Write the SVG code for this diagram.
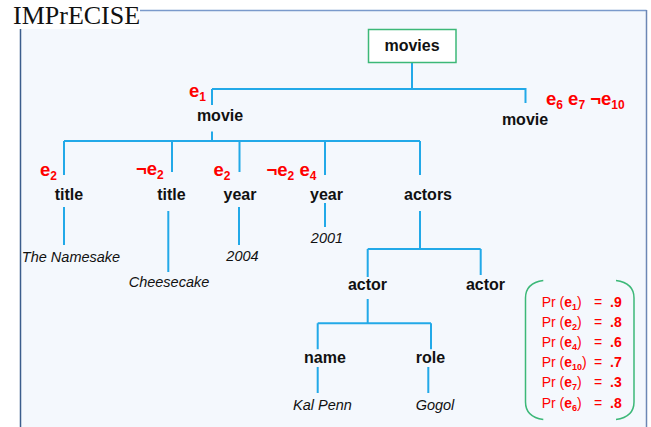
<svg xmlns="http://www.w3.org/2000/svg" width="651" height="427" viewBox="0 0 651 427">
<style>
.lbl{font-family:"Liberation Sans",Arial,sans-serif;font-weight:bold;font-size:16px;fill:#111;text-anchor:middle}
.val{font-family:"Liberation Sans",Arial,sans-serif;font-style:italic;font-size:14.5px;fill:#111;text-anchor:middle}
.ev{font-family:"Liberation Sans",Arial,sans-serif;font-weight:bold;font-size:18.5px;fill:#ff0000}
.sub{font-size:12px}
.leg{font-family:"Liberation Sans",Arial,sans-serif;font-size:14px;fill:#ff0000}
.b{font-weight:bold}
.ls{font-size:9px;font-weight:bold}
.conn{stroke:#22a9e8;stroke-width:2;fill:none}
</style>
<rect x="0" y="0" width="651" height="427" fill="#ffffff"/>
<rect x="20.5" y="10.5" width="626" height="420" fill="#f4f8fd" stroke="none"/>
<line x1="140" y1="10.5" x2="646.5" y2="10.5" stroke="#7a9acb" stroke-width="1.5"/>
<line x1="646.5" y1="10" x2="646.5" y2="427" stroke="#6c87b5" stroke-width="1.5"/>
<line x1="20.5" y1="29" x2="20.5" y2="427" stroke="#3b5d8c" stroke-width="1.5"/>
<rect x="0" y="0" width="140" height="29" fill="#ffffff"/>
<text x="13" y="24" font-family="'Liberation Serif','Times New Roman',serif" font-size="26" fill="#111">IMPrECISE</text>

<g id="connectors">
<path class="conn" d="M412,63 V89 M212,89 H525.5 V103 M212,89 V105"/>
<path class="conn" d="M212,131.5 V141 M64,141 H420 M64,141 V175 M172,141 V172 M239.5,141 V172 M325,141 V175 M420,141 V175"/>
<path class="conn" d="M64,207 V245 M168.3,211 V272 M239,207 V245 M325,203 V227"/>
<path class="conn" d="M420,211 V249 M367.7,249 H480.7 M367.7,249 V277 M480.7,249 V275"/>
<path class="conn" d="M367.7,299 V323.3 M317.7,323.3 H431 M317.7,323.3 V349.3 M431,323.3 V349.3"/>
<path class="conn" d="M317.7,367 V393 M428.3,367 V393"/>
</g>

<g id="movies">
<rect x="368.5" y="29.5" width="87.5" height="33" fill="#ffffff" stroke="#3cb878" stroke-width="1.5"/>
<text class="lbl" x="412" y="51">movies</text>
</g>

<g id="movie1">
<text class="ev" x="189" y="97">e<tspan class="sub" dy="4">1</tspan></text>
<text class="lbl" x="220" y="121">movie</text>
</g>

<g id="movie2">
<text class="lbl" x="525" y="125">movie</text>
<text class="ev" x="546" y="105">e<tspan class="sub" dy="4">6</tspan><tspan dy="-4"> e</tspan><tspan class="sub" dy="4">7</tspan><tspan dy="-4"> ¬e</tspan><tspan class="sub" dy="4">10</tspan></text>
</g>

<g id="title1">
<text class="ev" x="40" y="176">e<tspan class="sub" dy="4">2</tspan></text>
<text class="lbl" x="69" y="200">title</text>
</g>

<g id="title2">
<text class="ev" x="136" y="175">¬e<tspan class="sub" dy="4">2</tspan></text>
<text class="lbl" x="171.5" y="200">title</text>
</g>

<g id="year1">
<text class="ev" x="213.5" y="176">e<tspan class="sub" dy="4">2</tspan></text>
<text class="lbl" x="240" y="200">year</text>
</g>

<g id="year2">
<text class="ev" x="266.5" y="176">¬e<tspan class="sub" dy="4">2</tspan><tspan dy="-4"> e</tspan><tspan class="sub" dy="4">4</tspan></text>
<text class="lbl" x="326.5" y="200">year</text>
</g>

<g id="actors">
<text class="lbl" x="428" y="200">actors</text>
</g>

<g id="val-namesake"><text class="val" x="71" y="261.5">The Namesake</text></g>
<g id="val-cheesecake"><text class="val" x="169" y="287">Cheesecake</text></g>
<g id="val-2004"><text class="val" x="242.5" y="261">2004</text></g>
<g id="val-2001"><text class="val" x="327" y="242.5">2001</text></g>

<g id="actor1"><text class="lbl" x="367.5" y="290">actor</text></g>
<g id="actor2"><text class="lbl" x="485.5" y="290">actor</text></g>
<g id="name"><text class="lbl" x="325" y="363">name</text></g>
<g id="role"><text class="lbl" x="430.5" y="363">role</text></g>
<g id="val-kalpenn"><text class="val" x="322.5" y="410">Kal Penn</text></g>
<g id="val-gogol"><text class="val" x="435" y="410">Gogol</text></g>

<g id="legend">
<path d="M543.3,280.5 Q525.5,283 525.5,298 V402 Q525.5,417 543.3,419.5" fill="none" stroke="#3cb878" stroke-width="1.5"/>
<path d="M616,280.5 Q634,283 634,298 V402 Q634,417 616,419.5" fill="none" stroke="#3cb878" stroke-width="1.5"/>
<text class="leg" x="541.7" y="306.5">Pr (<tspan class="b">e</tspan><tspan class="ls" dy="3">1</tspan><tspan dy="-3">)</tspan></text>
<text class="leg" x="594" y="306.5">=</text><text class="leg b" x="610" y="306.5">.9</text>
<text class="leg" x="541.7" y="326.7">Pr (<tspan class="b">e</tspan><tspan class="ls" dy="3">2</tspan><tspan dy="-3">)</tspan></text>
<text class="leg" x="594" y="326.7">=</text><text class="leg b" x="610" y="326.7">.8</text>
<text class="leg" x="541.7" y="346.9">Pr (<tspan class="b">e</tspan><tspan class="ls" dy="3">4</tspan><tspan dy="-3">)</tspan></text>
<text class="leg" x="594" y="346.9">=</text><text class="leg b" x="610" y="346.9">.6</text>
<text class="leg" x="541.7" y="367.1">Pr (<tspan class="b">e</tspan><tspan class="ls" dy="3">10</tspan><tspan dy="-3">)</tspan></text>
<text class="leg" x="594" y="367.1">=</text><text class="leg b" x="610" y="367.1">.7</text>
<text class="leg" x="541.7" y="387.3">Pr (<tspan class="b">e</tspan><tspan class="ls" dy="3">7</tspan><tspan dy="-3">)</tspan></text>
<text class="leg" x="594" y="387.3">=</text><text class="leg b" x="610" y="387.3">.3</text>
<text class="leg" x="541.7" y="407.5">Pr (<tspan class="b">e</tspan><tspan class="ls" dy="3">6</tspan><tspan dy="-3">)</tspan></text>
<text class="leg" x="594" y="407.5">=</text><text class="leg b" x="610" y="407.5">.8</text>
</g>
</svg>
